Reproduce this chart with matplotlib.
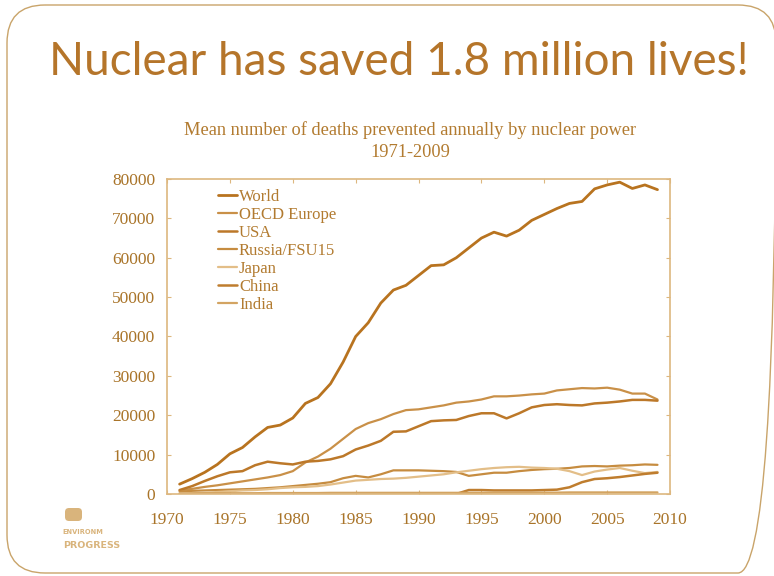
import numpy as np
import matplotlib
matplotlib.use("Agg")
import matplotlib.pyplot as plt
from matplotlib.patches import FancyBboxPatch

# data (deaths prevented per year), 1971-2009
years = list(range(1971, 2010))
world = [2500, 3900, 5500, 7500, 10200, 11800, 14500, 16900, 17500, 19300,
         23000, 24500, 28000, 33500, 40000, 43500, 48500, 51800, 53000, 55500,
         58000, 58200, 60000, 62500, 65000, 66500, 65500, 67000, 69500, 71000,
         72500, 73800, 74300, 77500, 78500, 79200, 77600, 78500, 77300]
oecd_europe = [900, 1300, 1800, 2200, 2700, 3200, 3700, 4200, 4800, 5800,
               8000, 9500, 11500, 14000, 16500, 18000, 19000, 20300, 21300, 21500,
               22000, 22500, 23200, 23500, 24000, 24800, 24800, 25000, 25300, 25500,
               26300, 26600, 26900, 26800, 27000, 26500, 25500, 25500, 24000]
usa = [1000, 2000, 3300, 4500, 5500, 5800, 7300, 8200, 7800, 7500,
       8200, 8400, 8800, 9600, 11300, 12300, 13500, 15800, 15900, 17200,
       18500, 18700, 18800, 19800, 20500, 20500, 19200, 20500, 22000, 22600,
       22800, 22600, 22500, 23000, 23200, 23500, 23900, 23900, 23700]
russia = [600, 800, 900, 1000, 1100, 1200, 1300, 1500, 1700, 2000,
          2300, 2600, 3000, 4000, 4600, 4200, 5000, 6000, 6000, 6000,
          5900, 5800, 5600, 4600, 5000, 5400, 5400, 5800, 6100, 6300,
          6400, 6600, 7000, 7100, 7000, 7200, 7300, 7500, 7400]
japan = [100, 200, 300, 500, 700, 900, 1000, 1200, 1500, 1700,
         1800, 2000, 2400, 2900, 3400, 3600, 3800, 3900, 4100, 4400,
         4700, 5000, 5500, 5900, 6300, 6600, 6800, 6900, 6700, 6600,
         6400, 5800, 4800, 5700, 6200, 6600, 5900, 5300, 5600]
china = [np.nan] * 22 + [0, 1000, 1000, 900, 900, 900, 900, 1000,
                         1100, 1700, 3000, 3800, 4000, 4300, 4700, 5100, 5400]
india = [100, 150, 200, 200, 200, 200, 200, 250, 250, 250,
         250, 250, 300, 300, 300, 300, 300, 300, 300, 300,
         300, 300, 300, 300, 300, 350, 350, 350, 350, 350,
         350, 400, 400, 400, 400, 400, 400, 400, 400]

series = [
    ("World", world, "#B8731F", 2.0),
    ("OECD Europe", oecd_europe, "#C99048", 1.6),
    ("USA", usa, "#BC7829", 1.8),
    ("Russia/FSU15", russia, "#C68C40", 1.6),
    ("Japan", japan, "#E3BE88", 1.6),
    ("China", china, "#BF7D2E", 1.8),
    ("India", india, "#D3A462", 1.6),
]

text_col = "#B27B30"
frame_col = "#DDB77F"
logo_col = "#D9B47C"

fig = plt.figure(figsize=(7.74, 5.76), dpi=100)
fig.patch.set_facecolor("white")

# slide background with rounded border (pixel coordinates)
bg = fig.add_axes([0, 0, 1, 1])
bg.set_xlim(0, 774)
bg.set_ylim(576, 0)
bg.axis("off")
bg.add_patch(FancyBboxPatch((7, 5), 769, 568, boxstyle="round,pad=0,rounding_size=38",
                            fill=False, edgecolor="#C9A46A", linewidth=1.0))

fig.text(0.515, 0.893, "Nuclear has saved 1.8 million lives!", ha="center", va="center",
         fontsize=33, color="#B5752A", family="Lato")

fig.text(0.53, 0.775, "Mean number of deaths prevented annually by nuclear power",
         ha="center", va="center", fontsize=13.2, color=text_col, family="Liberation Serif")
fig.text(0.53, 0.736, "1971-2009", ha="center", va="center", fontsize=13.2,
         color=text_col, family="Liberation Serif")

# logo
bg.add_patch(FancyBboxPatch((65, 508), 17, 13, boxstyle="round,pad=0,rounding_size=4",
                            facecolor=logo_col, edgecolor="none"))
fig.text(0.081, 0.073, "ENVIRONM", fontsize=4.8, color=logo_col, family="DejaVu Sans",
         fontweight="bold", ha="left")
fig.text(0.081, 0.048, "PROGRESS", fontsize=6.8, color=logo_col, family="DejaVu Sans",
         fontweight="bold", ha="left")

ax = fig.add_axes([0.2158, 0.1424, 0.6499, 0.5468])
for name, vals, col, lw in series:
    ax.plot(years, vals, color=col, linewidth=lw, label=name, solid_capstyle="round")

ax.set_xlim(1970, 2010)
ax.set_ylim(0, 80000)
ax.set_xticks(range(1970, 2011, 5))
ax.set_yticks(range(0, 80001, 10000))
ax.tick_params(direction="in", length=3, color=frame_col, labelcolor="#A97429",
               top=True, right=True, labelsize=12.5)
ax.tick_params(axis="x", pad=13)
ax.tick_params(axis="y", pad=8.5)
for lab in ax.get_xticklabels() + ax.get_yticklabels():
    lab.set_family("Liberation Serif")
for sp in ax.spines.values():
    sp.set_color(frame_col)
    sp.set_linewidth(1.2)

leg = ax.legend(loc="upper left", frameon=False, bbox_to_anchor=(0.08, 1.003),
                prop={"family": "Liberation Serif", "size": 12},
                handlelength=1.15, handletextpad=0.1, labelspacing=0.12, borderaxespad=0.25)
for t in leg.get_texts():
    t.set_color(text_col)

fig.savefig("out.png", dpi=100, facecolor="white")
